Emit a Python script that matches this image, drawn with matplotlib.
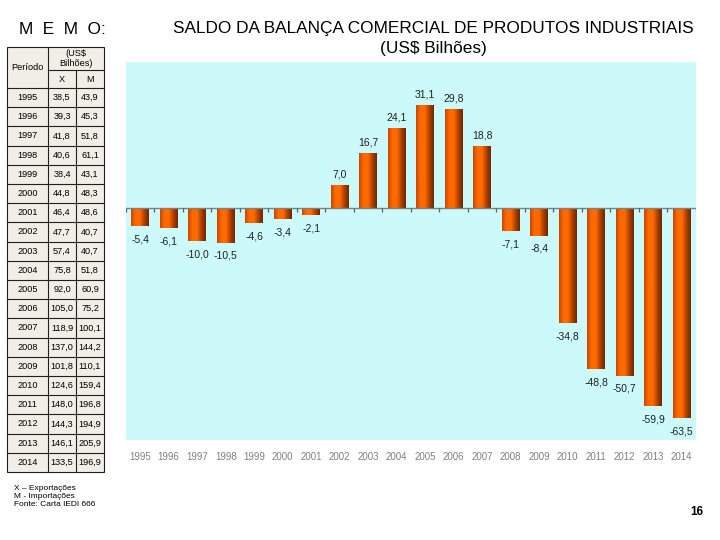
import matplotlib
matplotlib.use("Agg")
import matplotlib.pyplot as plt
import numpy as np
from matplotlib.colors import LinearSegmentedColormap

plt.rcParams['font.family'] = ['Liberation Sans', 'DejaVu Sans']

years = [str(y) for y in range(1995, 2015)]
saldo = [-5.4, -6.1, -10.0, -10.5, -4.6, -3.4, -2.1, 7.0, 16.7, 24.1,
         31.1, 29.8, 18.8, -7.1, -8.4, -34.8, -48.8, -50.7, -59.9, -63.5]
exports = ["38,5", "39,3", "41,8", "40,6", "38,4", "44,8", "46,4", "47,7", "57,4", "75,8",
           "92,0", "105,0", "118,9", "137,0", "101,8", "124,6", "148,0", "144,3", "146,1", "133,5"]
imports = ["43,9", "45,3", "51,8", "61,1", "43,1", "48,3", "48,6", "40,7", "40,7", "51,8",
           "60,9", "75,2", "100,1", "144,2", "110,1", "159,4", "196,8", "194,9", "205,9", "196,9"]

fig = plt.figure(figsize=(7.2, 5.4), dpi=100)
fig.patch.set_facecolor('white')

# ---- main chart ----
ax = fig.add_axes([126/720, 1-440/540, (696-126)/720, (440-62)/540])
ax.set_facecolor('#CCFAFA')
for s in ax.spines.values():
    s.set_visible(False)
x = np.arange(len(years))
bw = 0.62
bars = ax.bar(x, saldo, width=bw, color='#F06000', zorder=2)
cmap = LinearSegmentedColormap.from_list('o', ['#C84800', '#FF6A00', '#FF6A00', '#B04000', '#6A2800'])
grad = np.linspace(0, 1, 64).reshape(1, -1)
for b in bars:
    xb, yb, wb, hb = b.get_x(), b.get_y(), b.get_width(), b.get_height()
    im = ax.imshow(grad, cmap=cmap, aspect='auto', extent=[xb, xb + wb, yb, yb + hb], zorder=3)
    im.set_clip_path(b)
ax.set_xlim(-0.5, len(years) - 0.5)
ax.set_ylim(-70.2, 44.1)
ax.axhline(0, color='#808080', lw=1.0, zorder=4)
ax.vlines(np.arange(-0.5, len(years)), -1.3, 0, color='#606060', lw=0.9, zorder=4)
ax.set_yticks([])
ax.set_xticks(x)
ax.set_xticklabels(years, fontsize=7, color='#808080')
ax.tick_params(axis='x', length=0, pad=9)
for xi, v in zip(x, saldo):
    lab = f"{v:.1f}".replace('.', ',')
    if v >= 0:
        ax.annotate(lab, (xi, v), xytext=(0, 4), textcoords='offset points',
                    ha='center', va='bottom', fontsize=7.5, color='#202020', zorder=5)
    else:
        ax.annotate(lab, (xi, v), xytext=(0, -6), textcoords='offset points',
                    ha='center', va='top', fontsize=7.5, color='#202020', zorder=5)

fig.text(433/720, 1-29/540, "SALDO DA BALANÇA COMERCIAL DE PRODUTOS INDUSTRIAIS",
         ha='center', va='center', fontsize=12.4)
fig.text(433/720, 1-48/540, "(US$ Bilhões)", ha='center', va='center', fontsize=12.4)
fig.text(62/720, 1-29/540, "M  E  M  O:", ha='center', va='center', fontsize=12.4)
fig.text(697/720, 1-512/540, "16", ha='center', va='center', fontsize=8.5, fontweight='bold')

# ---- table ----
tax = fig.add_axes([0, 0, 1, 1])
tax.set_xlim(0, 720)
tax.set_ylim(540, 0)
tax.axis('off')
x0, x1, x2, x3 = 7, 48, 76, 104
ytop, yh, yhead = 47, 70, 88
rowh = (472 - yhead) / 20
tax.add_patch(plt.Rectangle((x0, ytop), x3 - x0, 472 - ytop, facecolor='#F0EEE6',
                            edgecolor='#202020', lw=0.8))
lc = '#202020'
tax.plot([x1, x1], [ytop, 472], color=lc, lw=0.8)
tax.plot([x2, x2], [yh, 472], color=lc, lw=0.8)
tax.plot([x1, x3], [yh, yh], color=lc, lw=0.8)
tax.plot([x0, x3], [yhead, yhead], color=lc, lw=0.8)
fs = 6.6
tax.text((x0 + x1) / 2, (ytop + yhead) / 2, "Período", ha='center', va='center', fontsize=fs)
tax.text((x1 + x3) / 2, (ytop + yh) / 2, "(US$\nBilhões)", ha='center', va='center', fontsize=fs,
         linespacing=1.0)
tax.text((x1 + x2) / 2, (yh + yhead) / 2, "X", ha='center', va='center', fontsize=fs)
tax.text((x2 + x3) / 2, (yh + yhead) / 2, "M", ha='center', va='center', fontsize=fs)
for i, (yr, ex, im_) in enumerate(zip(years, exports, imports)):
    yc = yhead + rowh * (i + 0.5)
    if i > 0:
        tax.plot([x0, x3], [yhead + rowh * i] * 2, color=lc, lw=0.8)
    tax.text((x0 + x1) / 2, yc, yr, ha='center', va='center', fontsize=fs)
    tax.text((x1 + x2) / 2, yc, ex, ha='center', va='center', fontsize=fs)
    tax.text((x2 + x3) / 2, yc, im_, ha='center', va='center', fontsize=fs)

tax.text(14, 488, "X – Exportações", ha='left', va='center', fontsize=6)
tax.text(14, 496, "M - Importações", ha='left', va='center', fontsize=6)
tax.text(14, 504, "Fonte: Carta IEDI 666", ha='left', va='center', fontsize=6)

fig.savefig('out.png', dpi=100)
